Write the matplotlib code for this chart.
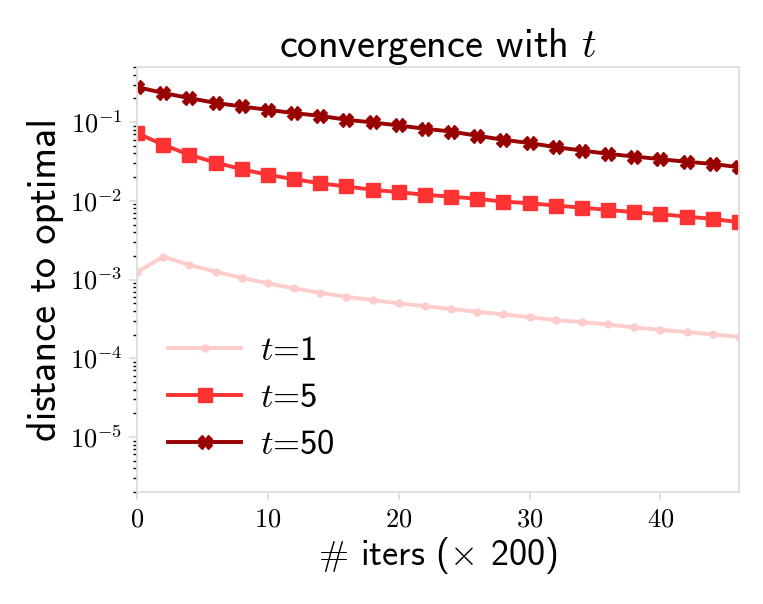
import matplotlib
matplotlib.use('Agg')
import matplotlib.pyplot as plt
from matplotlib.ticker import FuncFormatter
import numpy as np

plt.rcParams['mathtext.fontset'] = 'cm'
plt.rcParams['axes.unicode_minus'] = False

iters = list(range(0, 47, 2))

dist_t1 = [0.00124, 0.00195, 0.00153, 0.00126, 0.00105, 0.000895, 0.000773, 0.000679,
           0.000604, 0.000548, 0.000498, 0.000460, 0.000422, 0.000389, 0.000361, 0.000333,
           0.000305, 0.000288, 0.000269, 0.000246, 0.000230, 0.000215, 0.000201, 0.000187]
dist_t5 = [0.0725, 0.0514, 0.0384, 0.0306, 0.0252, 0.0214, 0.0188, 0.0167,
           0.0152, 0.0138, 0.0129, 0.0119, 0.0113, 0.0106, 0.00977, 0.00932,
           0.00869, 0.00819, 0.00766, 0.00716, 0.00676, 0.00630, 0.00589, 0.00535]
dist_t50 = [0.279, 0.234, 0.202, 0.175, 0.158, 0.143, 0.130, 0.120,
            0.107, 0.0989, 0.0906, 0.0822, 0.0759, 0.0670, 0.0596, 0.0541,
            0.0481, 0.0435, 0.0395, 0.0365, 0.0338, 0.0313, 0.0294, 0.0267]

labels = ['$t$=1', '$t$=5', '$t$=50']
colors = ['#ffcccc', '#ff3333', '#990000']
markers = ['o', 's', 'X']
sizes = [5, 10, 10]

sans = 'cmss10'

fig = plt.figure(figsize=(7.63, 6.04), dpi=100)
ax = fig.add_axes([0.1796, 0.1854, 0.7889, 0.7036])

for ys, lab, c, m, ms in zip([dist_t1, dist_t5, dist_t50], labels, colors, markers, sizes):
    ax.plot(iters, ys, color=c, marker=m, markersize=ms, linewidth=2.8, label=lab)

ax.set_yscale('log')
ax.set_xlim(0, 46)
ax.set_ylim(2e-6, 0.5)
ax.set_xticks([0, 10, 20, 30, 40])
ax.set_yticks([1e-5, 1e-4, 1e-3, 1e-2, 1e-1])
ax.xaxis.set_major_formatter(FuncFormatter(lambda v, p: r'$%d$' % v))
ax.yaxis.set_major_formatter(FuncFormatter(lambda v, p: r'$10^{%d}$' % round(np.log10(v))))

for s in ax.spines.values():
    s.set_color('#dddddd')
    s.set_linewidth(1.3)

ax.tick_params(which='major', color='#dddddd', length=6, width=1.3, labelsize=19, pad=4.5)
ax.tick_params(axis='y', which='minor', color='black', length=3, width=1)

ax.set_title('convergence with $t$', fontsize=29, family=sans)
ax.set_xlabel(r'$\#$ iters ($\times$ 200)', fontsize=26, family=sans, labelpad=2)
ax.set_ylabel('distance to optimal', fontsize=29, family=sans)

ax.legend(loc='lower left', frameon=False, prop={'family': sans, 'size': 25},
          handlelength=2.1, handletextpad=0.53, labelspacing=0.45,
          bbox_to_anchor=(0.0, 0.0))

fig.savefig('out.png', dpi=100)
